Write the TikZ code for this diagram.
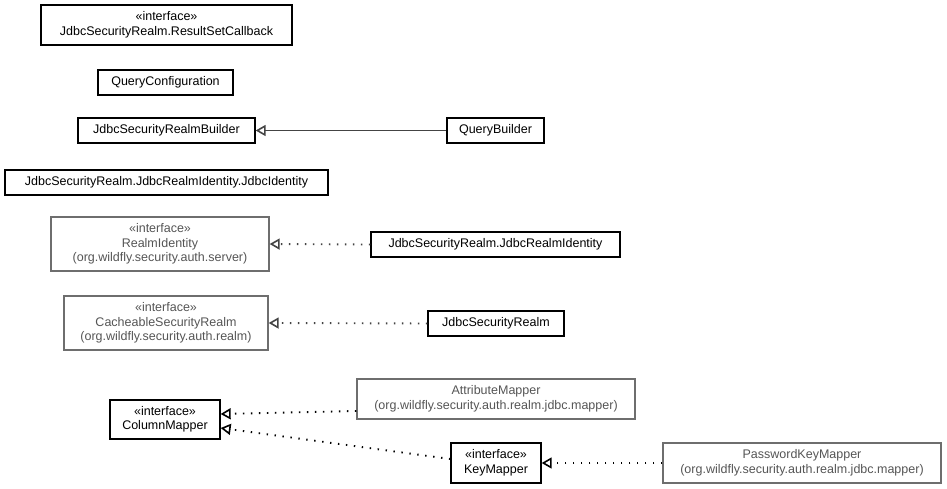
\documentclass[tikz,border=0pt]{standalone}
\usepackage{fontspec}
\setmainfont{Liberation Sans}
\usetikzlibrary{arrows.meta}
\definecolor{fadedline}{HTML}{6E6E6E}
\definecolor{fadedtext}{HTML}{555555}
\definecolor{relline}{HTML}{444444}
\tikzset{
  cls/.style={draw=black, line width=1.3pt, rectangle, inner sep=0pt, align=center,
    font=\fontsize{12.5}{14.5}\selectfont, text=black},
  ext/.style={cls, draw=fadedline, text=fadedtext},
  realize/.style={line width=1.9pt, dash pattern=on 1.4pt off 6.6pt,
    -{Triangle[open, length=10pt, width=11pt, line width=1.6pt, fill=white]}},
  inherit/.style={line width=1.5pt,
    -{Triangle[open, length=10pt, width=11pt, line width=1.6pt, fill=white]}}
}
\begin{document}
\begin{tikzpicture}[x=1pt, y=-1pt]
\useasboundingbox (0,0) rectangle (947,489);

% classes of the package
\node[cls, minimum width=251pt, minimum height=40pt] (rsc) at (166.5,25) {«interface»\\JdbcSecurityRealm.ResultSetCallback};
\node[cls, minimum width=135pt, minimum height=25pt] (qc) at (165.5,82.5) {QueryConfiguration};
\node[cls, minimum width=177pt, minimum height=25pt] (jsrb) at (166.5,130.5) {JdbcSecurityRealmBuilder};
\node[cls, minimum width=97pt, minimum height=25pt] (qb) at (495.5,130.5) {QueryBuilder};
\node[cls, minimum width=323pt, minimum height=25pt] (jid) at (166.5,182.5) {JdbcSecurityRealm.JdbcRealmIdentity.JdbcIdentity};
\node[cls, minimum width=249pt, minimum height=25pt] (jri) at (495.5,244.5) {JdbcSecurityRealm.JdbcRealmIdentity};
\node[cls, minimum width=136pt, minimum height=25pt] (jsr) at (496,323.5) {JdbcSecurityRealm};
\node[cls, minimum width=110pt, minimum height=39pt] (cm) at (165,419.5) {«interface»\\ColumnMapper};
\node[cls, minimum width=90pt, minimum height=40pt] (km) at (496,463) {«interface»\\KeyMapper};

% types from other packages
\node[ext, minimum width=218pt, minimum height=54pt] (ri) at (160,244) {«interface»\\RealmIdentity\\(org.wildfly.security.auth.server)};
\node[ext, minimum width=204pt, minimum height=54pt] (csr) at (166,323) {«interface»\\CacheableSecurityRealm\\(org.wildfly.security.auth.realm)};
\node[ext, minimum width=278pt, minimum height=40pt] (am) at (496,399) {AttributeMapper\\(org.wildfly.security.auth.realm.jdbc.mapper)};
\node[ext, minimum width=278pt, minimum height=40pt] (pkm) at (802,463) {PasswordKeyMapper\\(org.wildfly.security.auth.realm.jdbc.mapper)};

% relations
\draw[inherit, draw=relline] (qb.west) -- (jsrb.east);
\draw[realize, draw=relline] (jri.west) -- (ri.east);
\draw[realize, draw=relline] (jsr.west) -- (csr.east);
\draw[realize] ([yshift=-12pt]am.west) -- ([yshift=5.5pt]cm.east);
\draw[realize] ([yshift=4pt]km.west) -- ([yshift=-8.5pt]cm.east);
\draw[realize] (pkm.west) -- (km.east);
\end{tikzpicture}
\end{document}
